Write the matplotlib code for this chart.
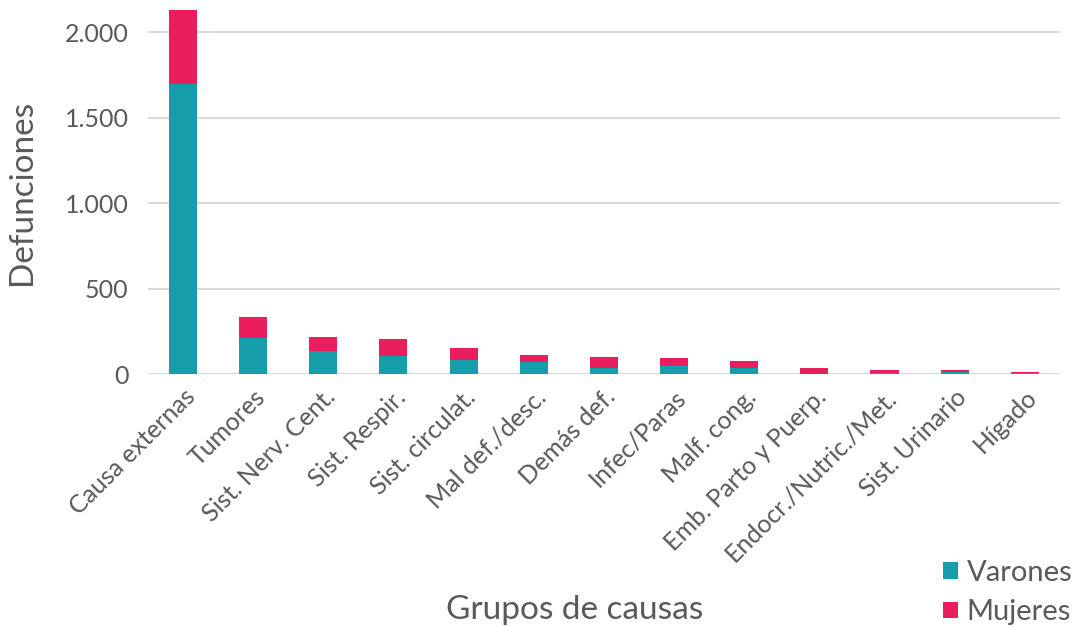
import matplotlib.pyplot as plt
import numpy as np

categorias = [
    "Causa externas",
    "Tumores",
    "Sist. Nerv. Cent.",
    "Sist. Respir.",
    "Sist. circulat.",
    "Mal def./desc.",
    "Demás def.",
    "Infec/Paras",
    "Malf. cong.",
    "Emb. Parto y Puerp.",
    "Endocr./Nutric./Met.",
    "Sist. Urinario",
    "Hígado",
]
varones = [1700, 209, 133, 108, 80, 68, 37, 49, 35, 0, 8, 10, 4]
mujeres = [430, 123, 82, 95, 70, 41, 61, 43, 43, 37, 17, 15, 10]
yticks = [0, 500, 1000, 1500, 2000]
ytick_labels = ["0", "500", "1.000", "1.500", "2.000"]

gris = "#595959"
plt.rcParams["font.family"] = ["Lato", "DejaVu Sans"]

fig = plt.figure(figsize=(10.76, 6.27), dpi=100)
ax = fig.add_axes([0.1375, 0.4035, 0.8475, 0.5805])

x = np.arange(len(categorias))
ax.bar(x, varones, width=0.4, color="#159ea9", label="Varones", zorder=3)
ax.bar(x, mujeres, width=0.4, bottom=varones, color="#ea1e5c", label="Mujeres", zorder=3)

ax.set_xlim(-0.5, len(categorias) - 0.5)
ax.set_ylim(0, 2130)
ax.set_yticks(yticks)
ax.set_yticklabels(ytick_labels)
ax.yaxis.grid(True, color="#d9d9d9", linewidth=1.5, zorder=0)
for s in ax.spines.values():
    s.set_visible(False)
ax.axhline(0, color="#d9d9d9", linewidth=1.5, zorder=2)

ax.set_xticks(x)
ax.set_xticklabels(categorias, rotation=45, ha="right", rotation_mode="anchor")
ax.tick_params(axis="both", length=0, labelsize=18, labelcolor=gris)
ax.tick_params(axis="x", pad=8)
ax.tick_params(axis="y", pad=14)

ax.set_ylabel("Defunciones", fontsize=24, color=gris, labelpad=20)
fig.text(0.534, 0.027, "Grupos de causas", fontsize=24, color=gris, ha="center", va="center")

fig.legend(loc="lower right", bbox_to_anchor=(1.021, -0.039), frameon=False,
           fontsize=21, labelcolor=gris, handlelength=0.5, handleheight=0.5,
           handletextpad=0.3, labelspacing=0.45)

fig.savefig("out.png", dpi=100)
